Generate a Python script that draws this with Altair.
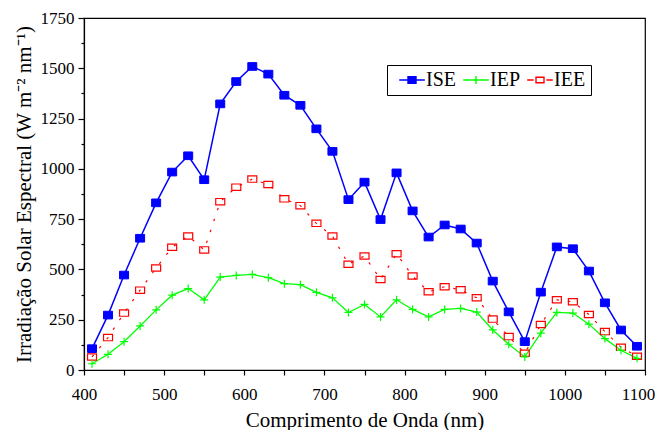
import altair as alt
import pandas as pd

wavelength = list(range(410, 1091, 20))
series = ["ISE", "IEP", "IEE"]
ise = [106, 273, 472, 655, 831, 984, 1065, 946, 1323, 1434,
       1509, 1471, 1366, 1316, 1199, 1087, 847, 934, 748, 980,
       791, 661, 721, 701, 631, 442, 289, 141, 387, 612,
       603, 492, 334, 199, 118]
iep = [31, 78, 141, 219, 299, 372, 405, 349, 462, 470,
       475, 459, 429, 424, 386, 359, 286, 326, 264, 349,
       301, 264, 301, 306, 288, 199, 128, 65, 183, 286,
       283, 228, 156, 98, 58]
iee = [65, 161, 283, 397, 507, 610, 666, 597, 837, 909,
       949, 922, 851, 817, 729, 666, 526, 567, 450, 578,
       467, 389, 414, 399, 359, 253, 166, 83, 226, 349,
       339, 276, 191, 113, 68]
x_ticks = list(range(400, 1101, 50))
y_ticks = list(range(0, 1751, 125))

rows = []
for name, vals in zip(series, [ise, iep, iee]):
    for w, v in zip(wavelength, vals):
        rows.append({"wl": w, "val": v, "serie": name})
df = pd.DataFrame(rows)

FONT = "Liberation Serif"
BLUE, GREEN, RED = "#0000ff", "#00ff00", "#ff0000"

x_enc = alt.X(
    "wl:Q",
    scale=alt.Scale(domain=[400, 1100], nice=False, zero=False),
    axis=alt.Axis(
        values=x_ticks,
        format="d",
        labelExpr="datum.value % 100 == 0 ? datum.label : ''",
        title="Comprimento de Onda (nm)",
        tickSize=5,
        labelFlush=False,
        labelOffset={"condition": {"test": "datum.value == 1100", "value": -7}, "value": 0},
        labelPadding=11,
        titlePadding=7,
    ),
)
y_enc = alt.Y(
    "val:Q",
    scale=alt.Scale(domain=[0, 1750], nice=False),
    axis=alt.Axis(
        values=y_ticks,
        format="d",
        labelExpr="datum.value % 250 == 0 ? datum.label : ''",
        title="Irradiação Solar Espectral (W m⁻² nm⁻¹)",
        tickSize={"condition": {"test": "datum.value % 250 == 0", "value": 6}, "value": 3},
        labelPadding=4,
        titlePadding=6,
    ),
)

base = alt.Chart(df).encode(x=x_enc, y=y_enc)

def sel(name):
    return base.transform_filter(alt.datum.serie == name)

line_ise = sel("ISE").mark_line(color=BLUE, strokeWidth=1.5)
line_iep = sel("IEP").mark_line(color=GREEN, strokeWidth=1.3)
line_iee = sel("IEE").mark_line(color=RED, strokeWidth=1.2, strokeDash=[2.5, 9])

pt_ise = sel("ISE").mark_point(
    shape="M-1,-0.85H1V0.85H-1Z", filled=True, fill=BLUE, stroke=BLUE,
    size=81, opacity=1, strokeWidth=1)
pt_iep = sel("IEP").mark_point(
    shape="M-1,0H1M0,-1V1", filled=False, stroke=GREEN,
    size=64, opacity=1, strokeWidth=1.2)
pt_iee = sel("IEE").mark_point(
    shape="M-1,-0.7H1V0.7H-1Z", filled=False, stroke=RED,
    size=81, opacity=1, strokeWidth=1.2)

leg = alt.Legend(
    title=None, orient="none", legendX=303, legendY=47, direction="horizontal",
    strokeColor="black", padding=5, labelFont=FONT, labelFontSize=20,
    labelColor="black", symbolSize=64, symbolStrokeWidth=1.4,
    labelOffset=4, symbolOffset=10, columnPadding=-11,
)
legend_layer = base.transform_filter("false").mark_point(filled=False, opacity=1).encode(
    color=alt.Color("serie:N", scale=alt.Scale(domain=series, range=[BLUE, GREEN, RED]), legend=leg),
    shape=alt.Shape("serie:N", scale=alt.Scale(domain=series, range=[
        "M-3.2,0H3.2M-1,-0.85H1V0.85H-1Z",
        "M-3.2,0H3.2M0,-1V1",
        "M-3.2,0H-1.6M1.6,0H3.2M-1,-0.7H1V0.7H-1Z",
    ]), legend=leg),
    fill=alt.Fill("serie:N", scale=alt.Scale(domain=series, range=[BLUE, "transparent", "transparent"]), legend=leg),
)

chart = alt.layer(
    line_iee, line_iep, line_ise, pt_iee, pt_iep, pt_ise, legend_layer
).properties(
    width=561, height=352, background="white",
    padding={"left": 5, "top": 1, "right": 0, "bottom": 0},
).configure_axis(
    grid=False, domainColor="black", tickColor="black", labelColor="black",
    titleColor="black", labelFont=FONT, titleFont=FONT, labelFontSize=17,
    titleFontSize=21, titleFontWeight="normal", domainWidth=1.2, tickWidth=1.2,
).configure_view(
    stroke="black", strokeWidth=1.2,
)

chart.save("out.html", embed_options={"renderer": "svg", "actions": False})
